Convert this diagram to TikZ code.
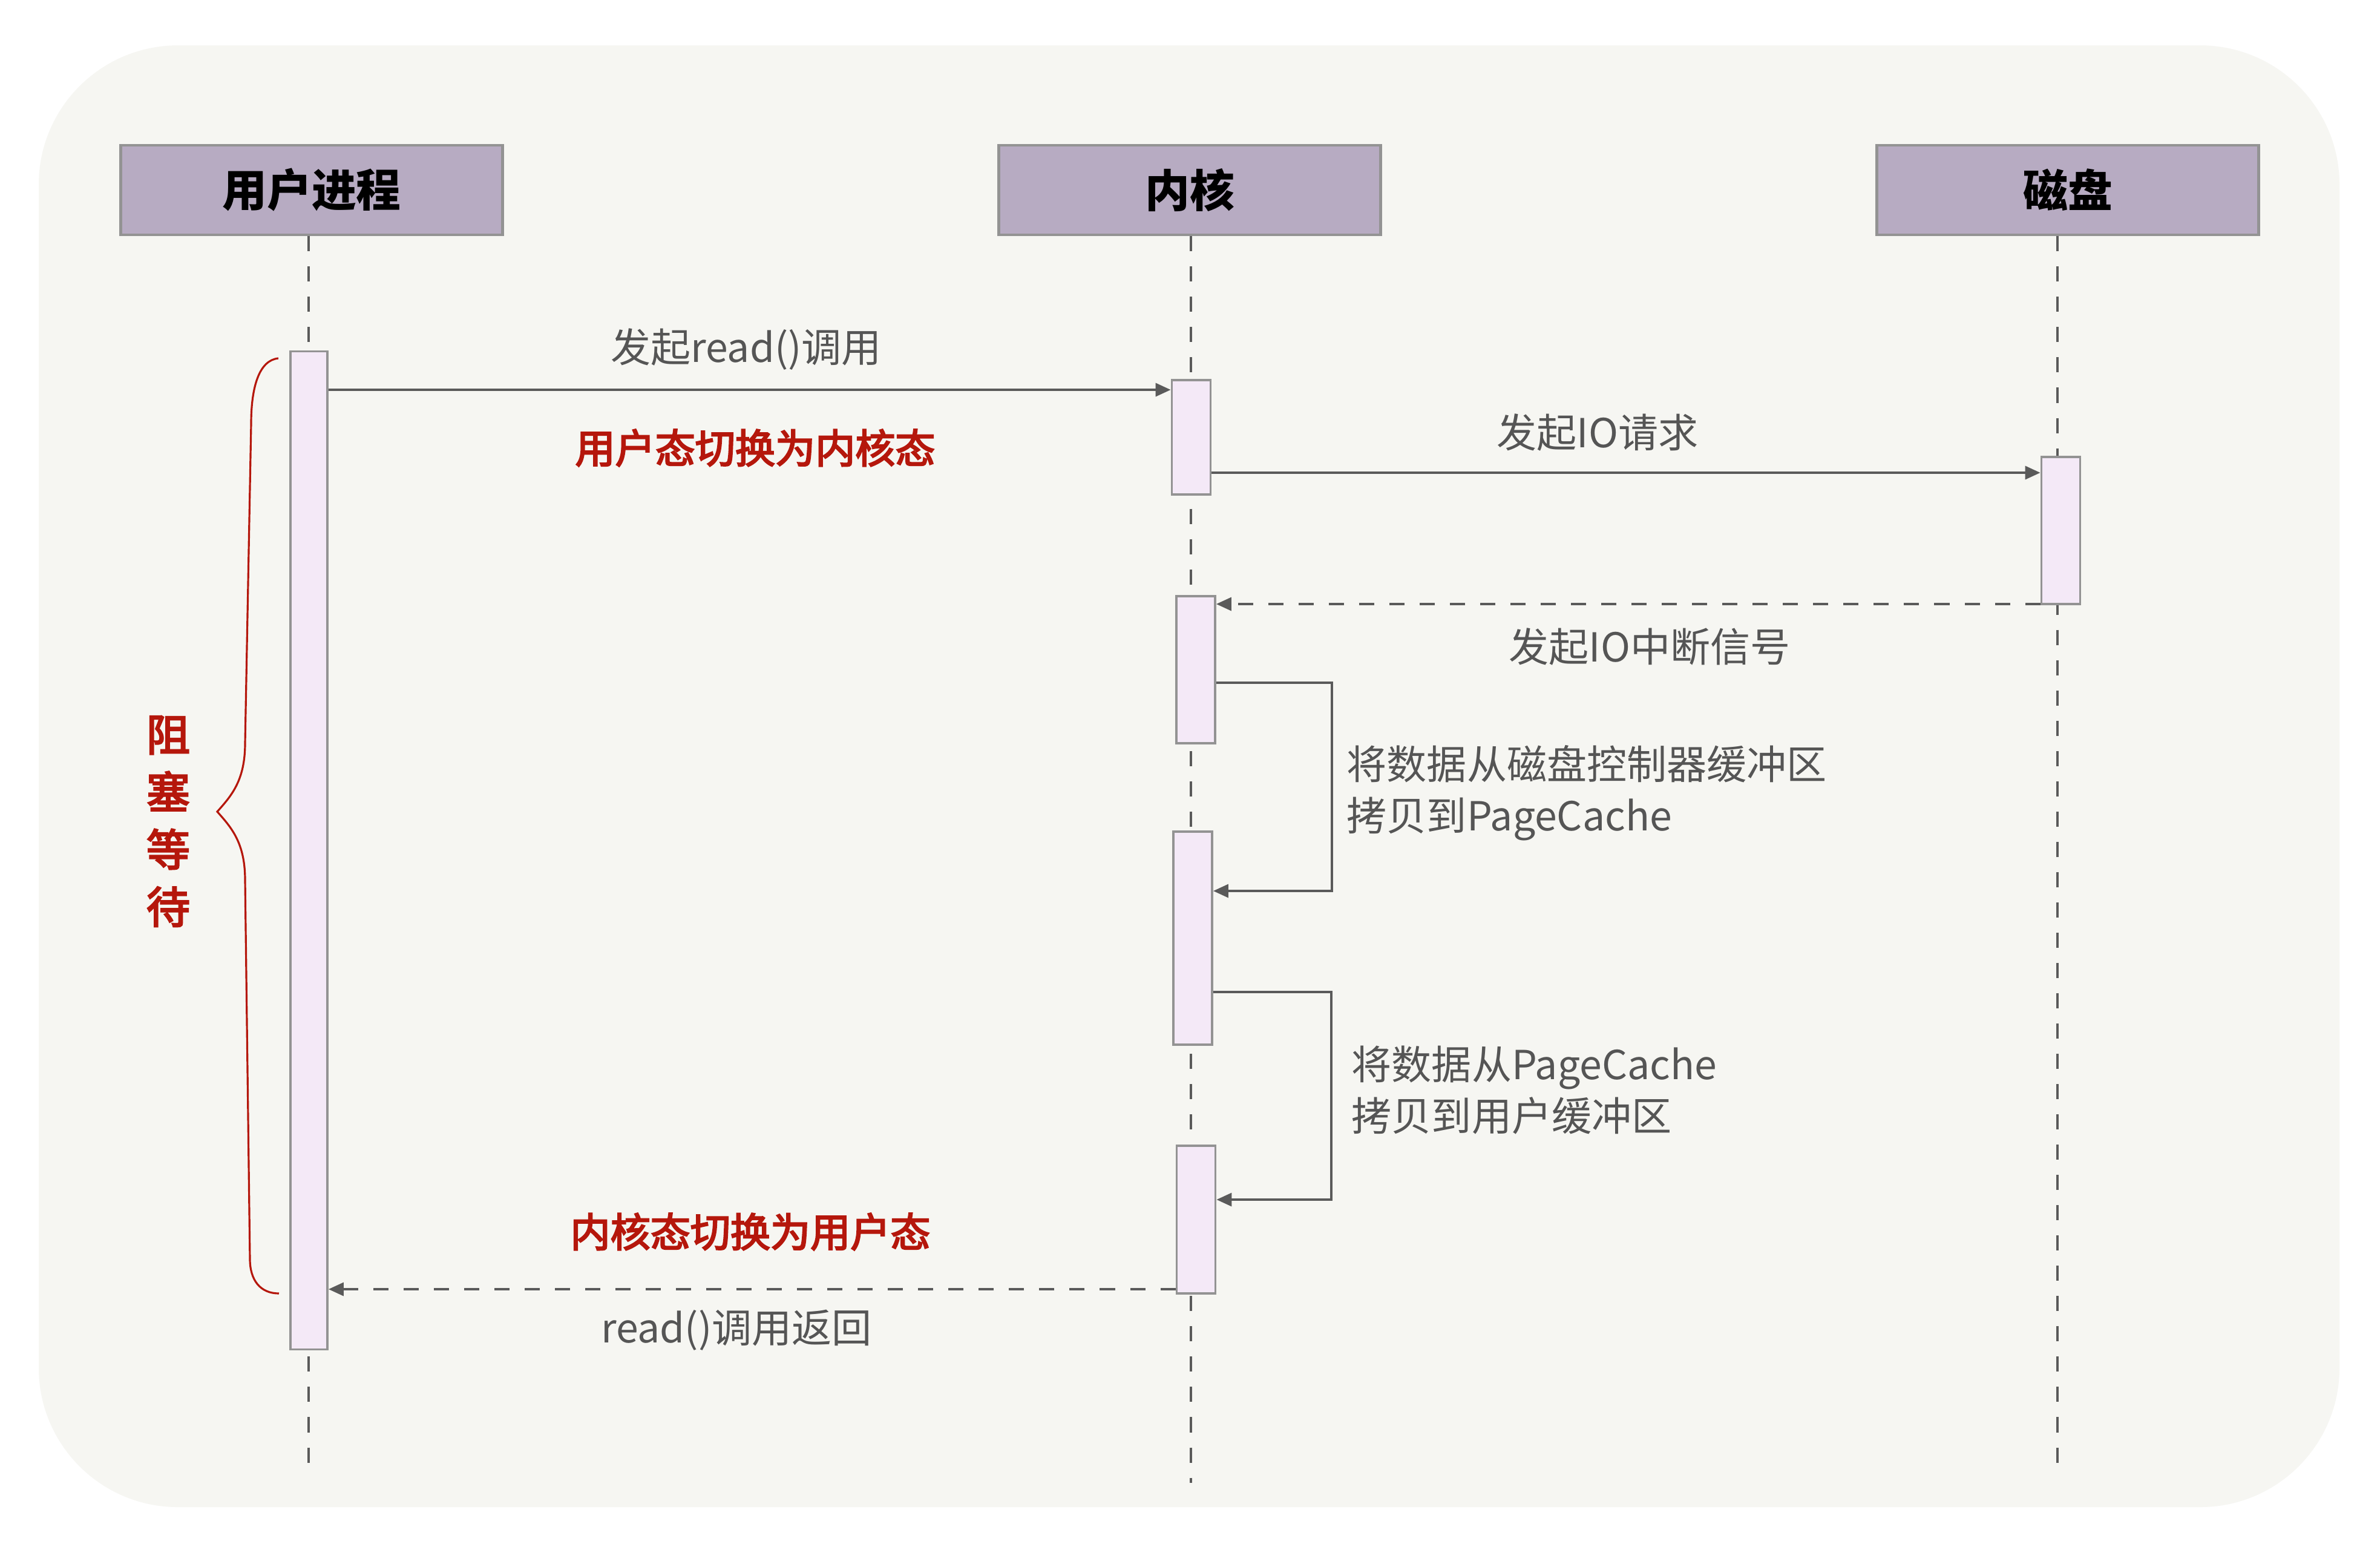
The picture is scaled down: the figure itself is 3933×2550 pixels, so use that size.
\documentclass[tikz,border=0pt]{standalone}
\usepackage{fontspec}
\setmainfont{Noto Sans CJK SC}
\newfontfamily\redfont{Noto Sans CJK SC}[FakeBold=3.5]
\usepackage{tikz}
\usetikzlibrary{arrows.meta,calc}

\definecolor{bgc}{HTML}{F6F6F2}
\definecolor{headc}{HTML}{B7ABC2}
\definecolor{actc}{HTML}{F4E9F7}
\definecolor{boxc}{HTML}{939393}
\definecolor{linec}{HTML}{5A5A5A}
\definecolor{textc}{HTML}{555555}
\definecolor{redc}{HTML}{B5170C}

\begin{document}
\begin{tikzpicture}[x=0.01cm,y=-0.01cm,
    head/.style={draw=boxc,line width=1.3pt,fill=headc,minimum width=6.31cm,minimum height=1.48cm,
      inner sep=0pt,text=black,font=\bfseries\fontsize{21}{25}\selectfont},
    act/.style={draw=boxc,line width=1.1pt,fill=actc,minimum width=0.64cm,inner sep=0pt},
    life/.style={draw=linec,line width=1.1pt,dash pattern=on 0.25cm off 0.25cm},
    msg/.style={draw=linec,line width=1pt,-{Triangle[length=0.25cm,width=0.22cm]}},
    ret/.style={msg,dash pattern=on 0.25cm off 0.25cm},
    lbl/.style={text=textc,inner sep=0pt,font=\fontsize{18.8}{24}\selectfont},
    redlbl/.style={text=redc,inner sep=0pt,font=\redfont\fontsize{18.8}{24}\selectfont}]

  % 背景
  \useasboundingbox (0,0) rectangle (3933,2550);
  \fill[white] (0,0) rectangle (3933,2550);
  \fill[bgc,rounded corners=2.3cm] (64,75) rectangle (3866,2490);

  % 三个角色
  \node[head] (user) at (515,314) {用户进程};
  \node[head] (kern) at (1966,314) {内核};
  \node[head] (disk) at (3417,314) {磁盘};

  \coordinate (uend) at (510,2427);
  \coordinate (kend) at (1968,2450);
  \coordinate (dend) at (3400,2440);
  \foreach \n/\e in {user/uend,kern/kend,disk/dend} {
    \draw[life] (\n.south -| \e) -- (\e);
  }

  % 激活框
  \node[act,minimum width=0.61cm,minimum height=16.48cm] (ua) at (510.5,1405) {};
  \node[act,minimum height=1.89cm] (k1) at (1968.5,722.5) {};
  \node[act,minimum height=2.43cm] (da) at (3405.5,876.5) {};
  \node[act,minimum height=2.43cm] (k2) at (1976,1106.5) {};
  \node[act,minimum height=3.52cm] (k3) at (1971,1550) {};
  \node[act,minimum height=2.44cm] (k4) at (1976.5,2015) {};

  % 消息
  \coordinate (m1) at (0,644);
  \coordinate (m2) at (0,781);
  \coordinate (m3) at (0,998);
  \coordinate (m4) at (0,2130);
  \draw[msg] (ua.east |- m1) -- (k1.west |- m1);
  \draw[msg] (k1.east |- m2) -- (da.west |- m2);
  \draw[ret] (da.west |- m3) -- (k2.east |- m3);
  \draw[ret] (k4.west |- m4) -- (ua.east |- m4);

  \coordinate (s1a) at (2201,1128);
  \coordinate (s1b) at (2201,1472);
  \coordinate (s2a) at (2200,1639);
  \coordinate (s2b) at (2200,1982);
  \draw[msg] (k2.east |- s1a) -- (s1a) -- (s1b) -- (k3.east |- s1b);
  \draw[msg] (k3.east |- s2a) -- (s2a) -- (s2b) -- (k4.east |- s2b);

  % 文字
  \node[lbl] (lread) at (1233,577) {发起read()调用};
  \node[redlbl] (lsw1) at (1248,740) {用户态切换为内核态};
  \node[lbl] (lio) at (2640,714) {发起IO请求};
  \node[lbl] (lirq) at (2726,1068) {发起IO中断信号};
  \node[lbl,anchor=west,align=left] (lcp1) at (2225,1310) {将数据从磁盘控制器缓冲区\\拷贝到PageCache};
  \node[lbl,anchor=west,align=left] (lcp2) at (2233,1801) {将数据从PageCache\\拷贝到用户缓冲区};
  \node[redlbl] (lsw2) at (1240,2035) {内核态切换为用户态};
  \node[lbl] (lret) at (1217,2198) {read()调用返回};

  % 阻塞等待
  \draw[redc,line width=0.9pt] (460,592) .. controls (428,595) and (415,640) .. (415,700)
    -- (405,1228) .. controls (405,1290) and (382,1315) .. (359,1341)
    .. controls (382,1367) and (405,1392) .. (405,1454)
    -- (413,2080) .. controls (413,2115) and (430,2137) .. (461,2137);
  \node[redlbl,align=center,font=\redfont\fontsize{20.5}{27}\selectfont] (lblock) at (278,1357) {阻\\塞\\等\\待};
\end{tikzpicture}
\end{document}
